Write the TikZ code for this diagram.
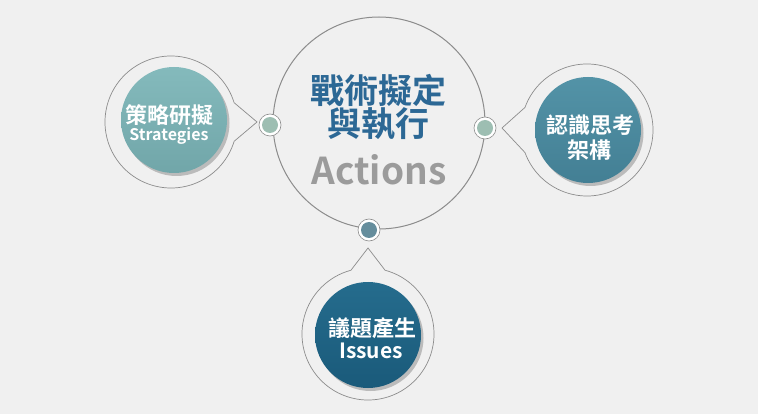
\documentclass[tikz,border=0pt]{standalone}
\usepackage{fontspec}
\setmainfont{Noto Sans CJK TC}[BoldFont={Noto Sans CJK TC Bold}]
\usetikzlibrary{calc, shadows}
\definecolor{bgGray}{HTML}{F0F0F0}
\definecolor{lineGray}{HTML}{8C8C8C}
\definecolor{stratTop}{HTML}{84BABC}
\definecolor{stratBot}{HTML}{71A6A9}
\definecolor{frameTop}{HTML}{5393A7}
\definecolor{frameBot}{HTML}{437F94}
\definecolor{issueTop}{HTML}{256C8D}
\definecolor{issueBot}{HTML}{1A5A7A}
\definecolor{dotGreen}{HTML}{9DBEB2}
\definecolor{dotSlate}{HTML}{658D9C}
\definecolor{titleBlue}{HTML}{2C6895}
\definecolor{actGray}{HTML}{9B9B9B}
\tikzset{
  ball/.style={circle, inner sep=0pt, minimum size=106pt,
    drop shadow={shadow xshift=2.5pt, shadow yshift=-3pt, opacity=0.22, fill=black}},
  balltext/.style={text=white, inner sep=0pt, font=\bfseries},
  ring/.style={circle, inner sep=0pt, minimum size=22pt, draw=lineGray, line width=0.6pt, fill=white},
  pip/.style={circle, inner sep=0pt, minimum size=16pt}
}

\begin{document}
\begin{tikzpicture}[x=1pt,y=-1pt]
\newcommand{\myfonttitle}[1]{
\fontsize{34}{34}\selectfont{#1}
}\newcommand{\myfontball}[1]{
\fontsize{22}{25}\selectfont{#1}
}%Background
\fill[bgGray] (0,0) rectangle (758,414);
\useasboundingbox (0,0) rectangle (758,414);
%Middle circle
\coordinate (mid) at (379,123);
\draw[lineGray, line width=1pt] (mid) circle (106);
%Bubble outlines with their tails
\coordinate (lc) at (171,122);
\coordinate (ltip) at (257,122);
\coordinate (rc) at (587,130);
\coordinate (rtip) at (502,128);
\coordinate (bc) at (368,334);
\coordinate (btip) at (368,248);
\draw[lineGray, line width=0.7pt] ($(lc)+(17:66)$) arc[start angle=17, end angle=343, radius=66] -- (ltip) -- cycle;
\draw[lineGray, line width=0.7pt] ($(rc)+(200:66)$) arc[start angle=200, end angle=520, radius=66] -- (rtip) -- cycle;
\draw[lineGray, line width=0.7pt] ($(bc)+(285:66)$) arc[start angle=285, end angle=615, radius=66] -- (btip) -- cycle;
%Filled balls
\node [ball, top color=stratTop, bottom color=stratBot] (strat) at (174,120) {};
\node [ball, top color=frameTop, bottom color=frameBot] (frame) at (588,130) {};
\node [ball, top color=issueTop, bottom color=issueBot] (issue) at (368,335) {};
%Texts in the balls
\node [balltext] (strat1) at (169,115) {\myfontball{策略研擬}};
\node [balltext, anchor=base] (strat2) at (169,141) {\fontsize{16}{18}\selectfont{Strategies}};
\node [balltext] (frame1) at (590,125) {\myfontball{認識思考}};
\node [balltext] (frame2) at (589,150) {\myfontball{架構}};
\node [balltext] (issue1) at (372,328) {\myfontball{議題產生}};
\node [balltext, anchor=base] (issue2) at (371,358) {\fontsize{21}{24}\selectfont{Issues}};
%Dots on the middle circle
\node [ring] (ldotring) at (270,125) {};
\node [ring] (rdotring) at (485,128) {};
\node [ring] (bdotring) at (369,230) {};
\node [pip, fill=dotGreen] (ldot) at (ldotring) {};
\node [pip, fill=dotGreen] (rdot) at (rdotring) {};
\node [pip, fill=dotSlate] (bdot) at (bdotring) {};
%Title
\node [text=titleBlue, font=\bfseries] (title1) at (378,90) {\myfonttitle{戰術擬定}};
\node [text=titleBlue, font=\bfseries] (title2) at (378,124) {\myfonttitle{與執行}};
\node [text=actGray, font=\bfseries, anchor=base] (actions) at (379,185) {\fontsize{37}{40}\selectfont{Actions}};
\end{tikzpicture}
\end{document}
